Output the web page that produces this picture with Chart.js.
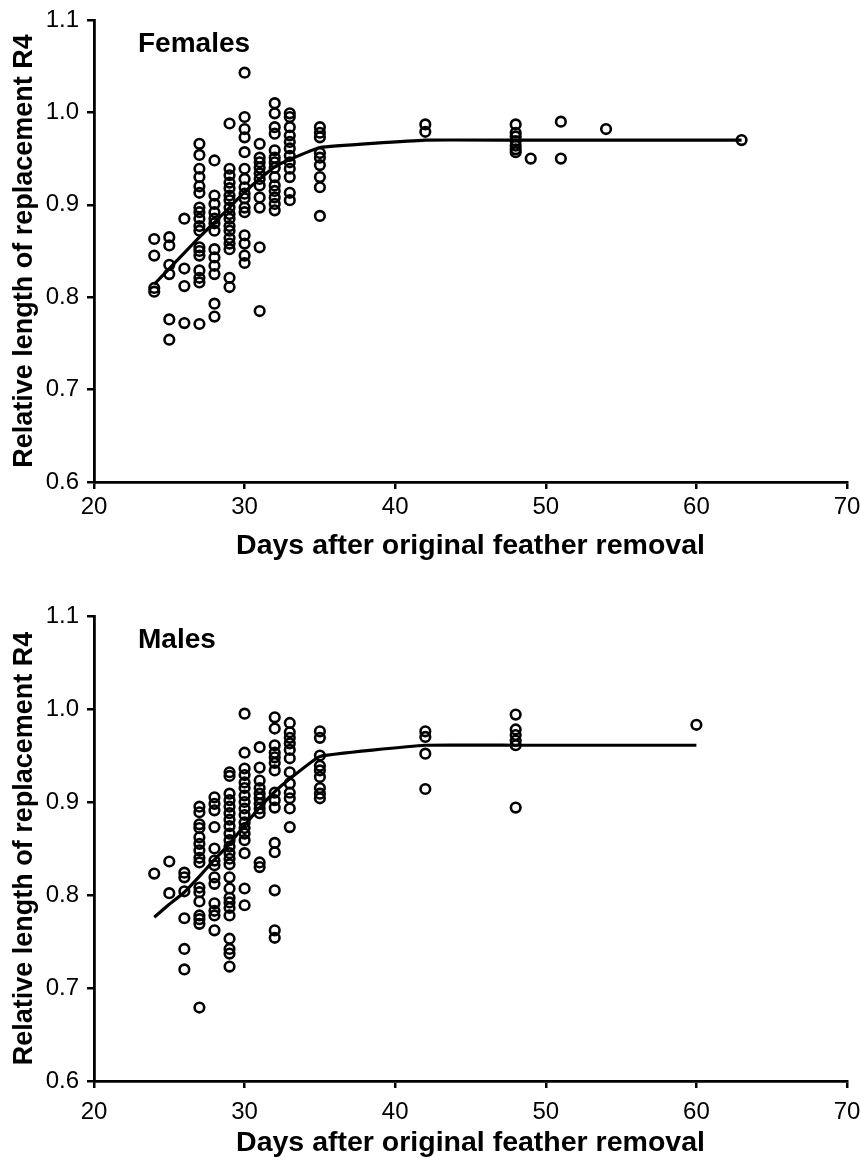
<!DOCTYPE html>
<html>
<head>
<meta charset="utf-8">
<script src="https://cdn.jsdelivr.net/npm/chart.js@4.4.1/dist/chart.umd.min.js"></script>
<style>
  html, body { margin: 0; padding: 0; background: #fff; }
  body { width: 861px; height: 1158px; position: relative; overflow: hidden; }
  .panel { position: absolute; left: 0; }
  canvas { display: block; }
</style>
</head>
<body>
<div class="panel" style="top:0;"><canvas id="cF" width="861" height="578"></canvas></div>
<div class="panel" style="top:578px;"><canvas id="cM" width="861" height="580"></canvas></div>
<script>
// ---- Data ----
const xTicks = [20, 30, 40, 50, 60, 70];
const yTicks = [0.6, 0.7, 0.8, 0.9, 1.0, 1.1];

// Females: days and the replacement lengths observed at each day
const femaleDays = [24, 25, 26, 27, 28, 29, 30, 31, 32, 33, 35, 42, 48, 49, 51, 54, 63];
const femaleValues = [
  [0.863, 0.845, 0.810, 0.806],
  [0.865, 0.856, 0.835, 0.825, 0.776, 0.754],
  [0.885, 0.831, 0.812, 0.772],
  [0.966, 0.954, 0.939, 0.930, 0.920, 0.913, 0.897, 0.892, 0.885, 0.877, 0.872, 0.854, 0.850, 0.845, 0.829, 0.821, 0.816, 0.771],
  [0.948, 0.910, 0.901, 0.892, 0.885, 0.880, 0.872, 0.852, 0.843, 0.834, 0.825, 0.793, 0.779],
  [0.988, 0.939, 0.932, 0.924, 0.918, 0.910, 0.905, 0.897, 0.890, 0.885, 0.877, 0.872, 0.864, 0.858, 0.852, 0.821, 0.811],
  [1.043, 0.995, 0.982, 0.973, 0.957, 0.939, 0.928, 0.919, 0.912, 0.907, 0.897, 0.892, 0.867, 0.858, 0.845, 0.837],
  [0.966, 0.951, 0.946, 0.940, 0.934, 0.928, 0.921, 0.908, 0.897, 0.854, 0.785],
  [1.010, 0.999, 0.984, 0.977, 0.959, 0.951, 0.946, 0.940, 0.930, 0.921, 0.915, 0.908, 0.901, 0.894],
  [0.999, 0.995, 0.984, 0.975, 0.968, 0.961, 0.953, 0.946, 0.939, 0.930, 0.913, 0.905],
  [0.984, 0.978, 0.973, 0.956, 0.951, 0.943, 0.930, 0.919, 0.888],
  [0.987, 0.979],
  [0.987, 0.978, 0.974, 0.969, 0.964, 0.960, 0.957],
  [0.950],
  [0.990, 0.950],
  [0.982],
  [0.970]
];
const femaleFitDays = [24, 25, 26, 27, 28, 29, 30, 31, 32, 33, 35, 42, 48, 63];
const femaleFitValues = [0.814, 0.831, 0.848, 0.865, 0.881, 0.897, 0.914, 0.928, 0.941, 0.949, 0.962, 0.970, 0.970, 0.970];

// Males
const maleDays = [24, 25, 26, 27, 28, 29, 30, 31, 32, 33, 35, 42, 48, 60];
const maleValues = [
  [0.823],
  [0.836, 0.802],
  [0.824, 0.819, 0.804, 0.775, 0.742, 0.720],
  [0.895, 0.889, 0.876, 0.872, 0.862, 0.855, 0.848, 0.840, 0.835, 0.808, 0.803, 0.793, 0.778, 0.774, 0.769, 0.679],
  [0.905, 0.898, 0.891, 0.873, 0.850, 0.837, 0.832, 0.819, 0.812, 0.791, 0.783, 0.778, 0.762],
  [0.932, 0.928, 0.909, 0.902, 0.895, 0.888, 0.881, 0.874, 0.866, 0.859, 0.852, 0.845, 0.839, 0.833, 0.819, 0.807, 0.797, 0.792, 0.786, 0.778, 0.753, 0.742, 0.737, 0.723],
  [0.995, 0.953, 0.936, 0.929, 0.921, 0.915, 0.907, 0.900, 0.893, 0.886, 0.878, 0.872, 0.866, 0.859, 0.845, 0.807, 0.789],
  [0.959, 0.937, 0.923, 0.915, 0.909, 0.904, 0.898, 0.893, 0.888, 0.835, 0.830],
  [0.991, 0.979, 0.961, 0.953, 0.948, 0.942, 0.934, 0.910, 0.902, 0.894, 0.856, 0.846, 0.805, 0.762, 0.754],
  [0.985, 0.975, 0.969, 0.963, 0.956, 0.947, 0.932, 0.920, 0.910, 0.904, 0.893, 0.873],
  [0.976, 0.969, 0.950, 0.939, 0.934, 0.927, 0.915, 0.909, 0.904],
  [0.976, 0.970, 0.952, 0.914],
  [0.994, 0.978, 0.972, 0.966, 0.961, 0.894],
  [0.983]
];
const maleFitDays = [24, 25, 26, 27, 28, 29, 30, 31, 32, 33, 35, 42, 48, 60];
const maleFitValues = [0.776, 0.790, 0.803, 0.820, 0.838, 0.855, 0.875, 0.894, 0.911, 0.925, 0.949, 0.961, 0.961, 0.961];

const xTitle = 'Days after original feather removal';
const yTitle = 'Relative length of replacement R4';

// ---- Chart building ----
const FONT = '"Liberation Sans", Arial, Helvetica, sans-serif';

function toPoints(days, values) {
  const pts = [];
  days.forEach((d, i) => values[i].forEach(v => pts.push({ x: d, y: v })));
  return pts;
}
function toLine(days, values) {
  return days.map((d, i) => ({ x: d, y: values[i] }));
}

function panelLabelPlugin(text) {
  return {
    id: 'panelLabel',
    afterDraw(chart) {
      const ctx = chart.ctx;
      const a = chart.chartArea;
      ctx.save();
      ctx.font = 'bold 28px ' + FONT;
      ctx.fillStyle = '#000';
      ctx.textBaseline = 'middle';
      ctx.textAlign = 'left';
      ctx.fillText(text, a.left + 44, a.top + 24);
      ctx.restore();
    }
  };
}

function makeChart(id, label, pts, line, padTop, xHeight, xTitlePad, xTickPad) {
  const ctx = document.getElementById(id).getContext('2d');
  return new Chart(ctx, {
    type: 'scatter',
    data: {
      datasets: [
        {
          label: label,
          data: pts,
          showLine: false,
          pointRadius: 4.8,
          pointBorderWidth: 2.6,
          pointBorderColor: '#000',
          pointBackgroundColor: 'rgba(0,0,0,0)',
          pointHoverRadius: 4.8,
          order: 2
        },
        {
          label: label + ' fit',
          data: line,
          showLine: true,
          borderColor: '#000',
          borderWidth: 3.2,
          pointRadius: 0,
          tension: 0.1,
          fill: false,
          order: 1
        }
      ]
    },
    options: {
      responsive: false,
      devicePixelRatio: 1,
      animation: false,
      layout: { padding: { top: padTop, right: 14, left: 0, bottom: 0 } },
      plugins: { legend: { display: false }, tooltip: { enabled: false } },
      scales: {
        x: {
          type: 'linear',
          min: xTicks[0],
          max: xTicks[xTicks.length - 1],
          afterBuildTicks(scale) { scale.ticks = xTicks.map(v => ({ value: v })); },
          afterFit(scale) { scale.height = xHeight; scale.paddingLeft = 0; scale.paddingRight = 0; },
          ticks: {
            font: { family: FONT, size: 24 },
            color: '#000',
            padding: xTickPad,
            maxRotation: 0,
            callback: v => String(v)
          },
          grid: { drawOnChartArea: false, drawTicks: true, tickLength: 7, color: '#000', lineWidth: 2.5 },
          border: { display: true, color: '#000', width: 2.8 },
          title: {
            display: true,
            text: xTitle,
            font: { family: FONT, size: 28.5, weight: 'bold', lineHeight: 1 },
            color: '#000',
            padding: { top: 0, bottom: xTitlePad }
          }
        },
        y: {
          type: 'linear',
          min: yTicks[0],
          max: yTicks[yTicks.length - 1],
          afterBuildTicks(scale) { scale.ticks = yTicks.map(v => ({ value: v })); },
          afterFit(scale) { scale.width = 94; scale.paddingTop = 0; scale.paddingBottom = 0; },
          ticks: {
            font: { family: FONT, size: 24 },
            color: '#000',
            padding: 8,
            callback: v => Number(v).toFixed(1)
          },
          grid: { drawOnChartArea: false, drawTicks: true, tickLength: 7, color: '#000', lineWidth: 2.5 },
          border: { display: true, color: '#000', width: 2.8 },
          title: {
            display: true,
            text: yTitle,
            font: { family: FONT, size: 27, weight: 'bold', lineHeight: 1 },
            color: '#000',
            padding: { top: 11, bottom: 0 }
          }
        }
      }
    },
    plugins: [panelLabelPlugin(label)]
  });
}

makeChart('cF', 'Females', toPoints(femaleDays, femaleValues), toLine(femaleFitDays, femaleFitValues), 20, 96, 18, 4);
makeChart('cM', 'Males', toPoints(maleDays, maleValues), toLine(maleFitDays, maleFitValues), 38, 77, 1, 10);
</script>
</body>
</html>
